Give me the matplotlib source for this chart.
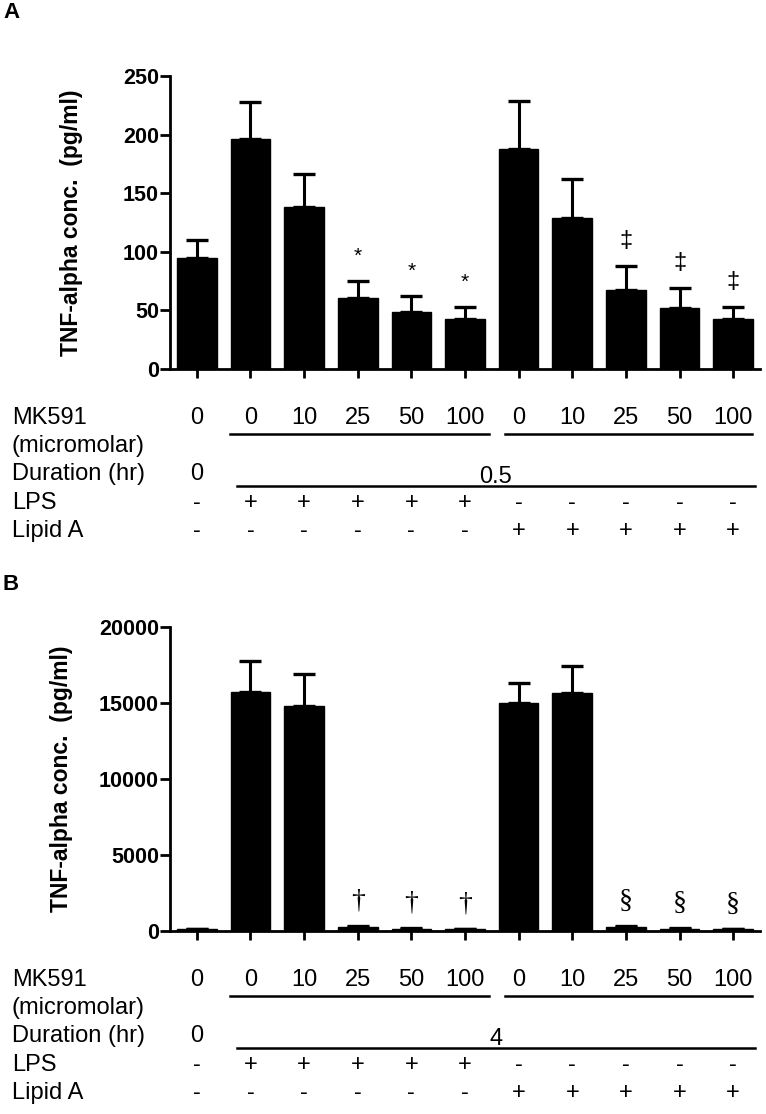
import matplotlib
matplotlib.use('Agg')
import matplotlib.pyplot as plt
from matplotlib.transforms import blended_transform_factory
from matplotlib.lines import Line2D

plt.rcParams['font.family'] = ['Liberation Sans', 'DejaVu Sans']

# ---------------- data ----------------
groups = list(range(11))
mk591_doses = ['0', '0', '10', '25', '50', '100', '0', '10', '25', '50', '100']
lps_row = ['-', '+', '+', '+', '+', '+', '-', '-', '-', '-', '-']
lipid_a_row = ['-', '-', '-', '-', '-', '-', '+', '+', '+', '+', '+']
duration_control = '0'

a_mean = [95, 196, 138, 61, 49, 43, 188, 129, 67, 52, 43]
a_err = [15, 32, 28, 14, 13, 10, 41, 33, 21, 17, 10]
a_marks = ['', '', '', '*', '*', '*', '', '', '‡', '‡', '‡']
a_yticks = [0, 50, 100, 150, 200, 250]
a_duration = '0.5'

b_mean = [100, 15700, 14800, 250, 130, 100, 15000, 15650, 250, 130, 100]
b_err = [50, 2050, 2100, 80, 40, 30, 1300, 1800, 80, 40, 30]
b_marks = ['', '', '', '†', '†', '†', '', '', '§', '§', '§']
b_yticks = [0, 5000, 10000, 15000, 20000]
b_duration = '4'

ylabel = 'TNF-alpha conc.  (pg/ml)'
row_labels = ['MK591', '(micromolar)', 'Duration (hr)', 'LPS', 'Lipid A']

# ---------------- layout ----------------
W, H, DPI = 766, 1114, 100
fig = plt.figure(figsize=(W / DPI, H / DPI), dpi=DPI)


def fx(p):
    return p / W


def fy(p):
    return 1 - p / H


AX_L, AX_R = 170, 760
TABLE_FS = 17
TICK_FS = 15.5


def panel(top, bottom, means, errs, marks, yticks, duration, letter, letter_y,
          ylabel_x, mark_font):
    ax = fig.add_axes([fx(AX_L), fy(bottom), fx(AX_R - AX_L), (bottom - top) / H])
    ax.bar(groups, means, width=0.74, color='black', edgecolor='black', zorder=2)
    ax.errorbar(groups, means, yerr=[[0] * len(errs), errs], fmt='none',
                ecolor='black', elinewidth=2.2, capsize=8, capthick=2.4, zorder=1)
    ax.set_xlim(-0.5, 10.5)
    ax.set_ylim(0, yticks[-1])
    ax.set_yticks(yticks)
    ax.set_xticks(groups)
    ax.set_xticklabels([])
    for s in ['top', 'right']:
        ax.spines[s].set_visible(False)
    for s in ['left', 'bottom']:
        ax.spines[s].set_linewidth(2.0)
    ax.tick_params(axis='y', direction='out', length=7, width=2, labelsize=TICK_FS, pad=1)
    ax.tick_params(axis='x', direction='out', length=6.5, width=2)
    for lab in ax.get_yticklabels():
        lab.set_fontweight('bold')
    fig.text(fx(ylabel_x), fy((top + bottom) / 2), ylabel, rotation=90,
             ha='center', va='center', fontsize=16.5, fontweight='bold')
    fig.text(fx(3), fy(letter_y), letter, ha='left', va='center',
             fontsize=16, fontweight='bold')
    for i, m in enumerate(marks):
        if m:
            fam, fs = mark_font[m]
            ax.annotate(m, xy=(groups[i], means[i] + errs[i]), xytext=(0, 18),
                        textcoords='offset points', ha='center', va='center',
                        fontsize=fs, family=fam)

    # table below the axis
    tr = blended_transform_factory(ax.transData, fig.transFigure)
    rows = [bottom + 49 + 28.2 * k for k in range(5)]
    for k, lab in enumerate(row_labels):
        fig.text(fx(12), fy(rows[k]), lab, ha='left', va='center', fontsize=TABLE_FS)
    for i in groups:
        ax.text(groups[i], fy(rows[0]), mk591_doses[i], transform=tr,
                ha='center', va='center', fontsize=TABLE_FS)
        ax.text(groups[i], fy(rows[3]), lps_row[i], transform=tr,
                ha='center', va='center', fontsize=TABLE_FS)
        ax.text(groups[i], fy(rows[4]), lipid_a_row[i], transform=tr,
                ha='center', va='center', fontsize=TABLE_FS)
    ax.text(groups[0], fy(rows[2]), duration_control, transform=tr,
            ha='center', va='center', fontsize=TABLE_FS)
    y_mk_line = fy(rows[0] + 16)
    y_du_line = fy(rows[2] + 11.5)
    for x0, x1, yy in [(0.62, 5.45, y_mk_line), (5.75, 10.35, y_mk_line),
                       (0.75, 10.4, y_du_line)]:
        ax.add_line(Line2D([x0, x1], [yy, yy], transform=tr, color='black',
                           lw=1.8, clip_on=False))
    ax.text((0.75 + 10.4) / 2, fy(rows[2] + 9), duration, transform=tr,
            ha='center', va='baseline', fontsize=TABLE_FS)
    return ax


panel(76, 369, a_mean, a_err, a_marks, a_yticks, a_duration, 'A', 13, 72,
      {'*': ('Liberation Sans', 15), '‡': ('Liberation Sans', 17)})
panel(627, 931, b_mean, b_err, b_marks, b_yticks, b_duration, 'B', 585, 62,
      {'†': ('Liberation Serif', 20), '§': ('Liberation Serif', 20)})

fig.savefig('out.png', dpi=DPI)
